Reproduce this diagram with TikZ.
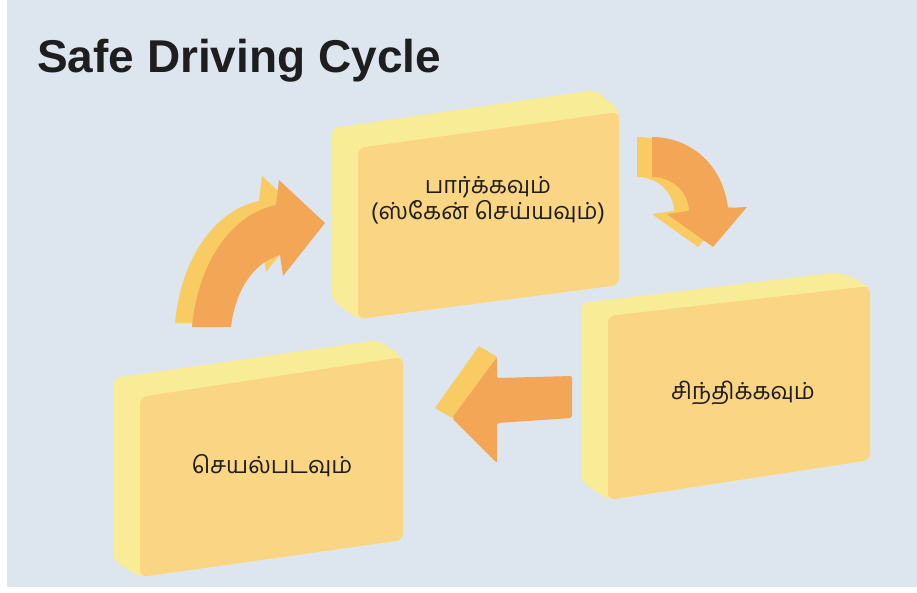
\documentclass[tikz,border=0pt]{standalone}
\usepackage{fontspec}
\setmainfont{Liberation Sans}
\newfontfamily\tamilfont[Script=Tamil]{Hind Madurai}
\usetikzlibrary{calc}
\definecolor{backcol}{RGB}{221,229,238}
\definecolor{facecol}{RGB}{250,213,132}
\definecolor{depthcol}{RGB}{248,236,150}
\definecolor{arrowcol}{RGB}{242,166,86}
\definecolor{arrowdepth}{RGB}{248,204,98}
\definecolor{inkcol}{RGB}{30,30,30}

\tikzset{
	boxface/.style={fill=facecol, rounded corners=7pt},
	boxdepth/.style={fill=depthcol, rounded corners=7pt},
	arrface/.style={fill=arrowcol},
	arrdepth/.style={fill=arrowdepth},
	tamiltext/.style={font=\tamilfont\fontsize{23.5}{26}\selectfont, text=inkcol, align=center}
}

% outlines of the two bent arrows
\newcommand{\bendup}{(192,327) .. controls (198,262) and (232,214) .. (276,205) -- (279,180) -- (325,223) -- (283,276) -- (280,255) .. controls (256,262) and (236,286) .. (231,327) -- cycle}
\newcommand{\benddown}{(652,137) .. controls (686,137) and (722,160) .. (728,208) -- (747,207) -- (713,247) -- (667,214) -- (689,211) .. controls (689,195) and (675,177) .. (652,177) -- cycle}

\begin{document}
\begin{tikzpicture}[x=1pt,y=-1pt]
	\useasboundingbox (0,0) rectangle (917,592);
	\fill[white] (0,0) rectangle (917,592);
	\fill[backcol] (7,0) rectangle (917,587);
%
	\node[anchor=base west, inner sep=0pt, text=inkcol, font=\bfseries\fontsize{46}{50}\selectfont] (title) at (37,72) {Safe Driving Cycle};
%
	% look box
	\fill[boxdepth] (332,128) -- (595,90) -- (619,110) -- (619,285) -- (358,319) -- (332,300) -- cycle;
	\fill[boxface] (358,148) -- (619,112) -- (619,285) -- (358,319) -- cycle;
	\node[tamiltext] (look) at (488,200) {பார்க்கவும்\\(ஸ்கேன் செய்யவும்)};
%
	% think box
	\fill[boxdepth] (581,303) -- (840,272) -- (870,287) -- (870,460) -- (610,500) -- (581,482) -- cycle;
	\fill[boxface] (608,316) -- (870,286) -- (870,460) -- (608,500) -- cycle;
	\node[tamiltext] (think) at (743,393) {சிந்திக்கவும்};
%
	% act box
	\fill[boxdepth] (113,378) -- (378,340) -- (403,357) -- (403,540) -- (140,577) -- (113,560) -- cycle;
	\fill[boxface] (140,397) -- (403,357) -- (403,540) -- (140,577) -- cycle;
	\node[tamiltext] (act) at (272,466) {செயல்படவும்};
%
	% arrows between the boxes
	\fill[arrdepth, shift={(-17,-4)}] \bendup;
	\fill[arrface] \bendup;
	\fill[arrdepth, shift={(-15,0)}] \benddown;
	\fill[arrface] \benddown;
	\fill[arrdepth] (497,357) -- (479,346) -- (435,408) -- (452,418) -- cycle;
	\fill[arrface, rounded corners=2pt] (572,376) -- (497,378) -- (497,357) -- (452,418) -- (497,463) -- (497,423) -- (572,418) -- cycle;
\end{tikzpicture}
\end{document}
